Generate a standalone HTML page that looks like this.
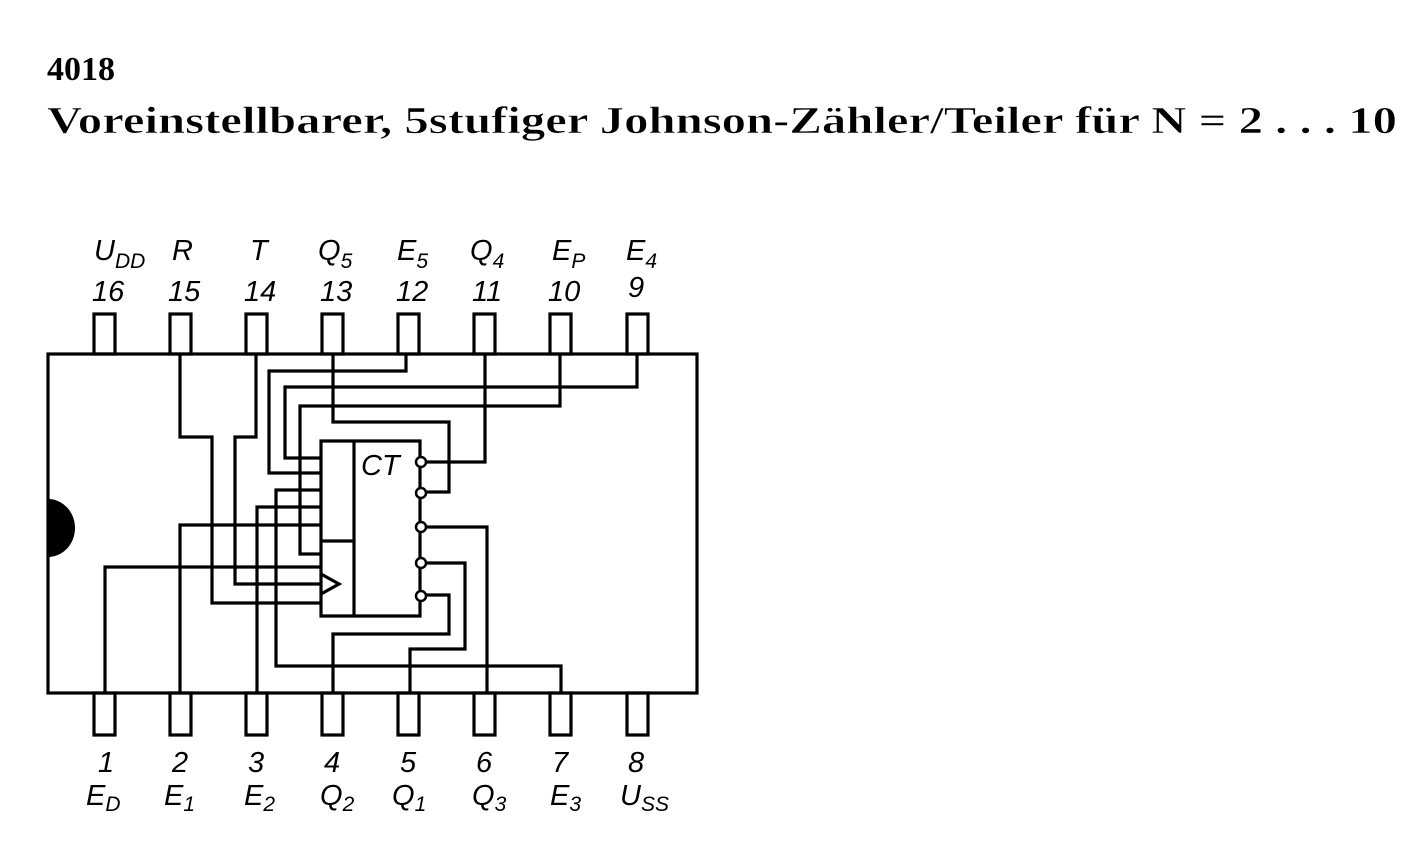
<!DOCTYPE html>
<html><head><meta charset="utf-8"><style>
html,body{margin:0;padding:0;background:#fff;}
svg{display:block;}
.t{font-family:"Liberation Serif",serif;fill:#000;}
.l{font-family:"Liberation Sans",sans-serif;font-style:italic;font-size:29px;fill:#000;}
.s{font-size:21px;}
</style></head><body>
<svg width="1427" height="846" viewBox="0 0 1427 846" xmlns="http://www.w3.org/2000/svg">
<text class="t" x="47" y="80" font-size="34" font-weight="bold">4018</text>
<text class="t" x="47" y="133" font-size="38" font-weight="bold" textLength="1350" lengthAdjust="spacingAndGlyphs" stroke="#fff" stroke-width="0.6">Voreinstellbarer, 5stufiger Johnson-Zähler/Teiler für N = 2 . . . 10</text>

<g fill="none" stroke="#000" stroke-width="3.2">
<rect x="48" y="354" width="649" height="339"/>
<g>
<rect x="94" y="314" width="21" height="40"/><rect x="170" y="314" width="21" height="40"/>
<rect x="246" y="314" width="21" height="40"/><rect x="322" y="314" width="21" height="40"/>
<rect x="398" y="314" width="21" height="40"/><rect x="474" y="314" width="21" height="40"/>
<rect x="550" y="314" width="21" height="40"/><rect x="627" y="314" width="21" height="40"/>
</g>
<g>
<rect x="94" y="693" width="21" height="42"/><rect x="170" y="693" width="21" height="42"/>
<rect x="246" y="693" width="21" height="42"/><rect x="322" y="693" width="21" height="42"/>
<rect x="398" y="693" width="21" height="42"/><rect x="474" y="693" width="21" height="42"/>
<rect x="550" y="693" width="21" height="42"/><rect x="627" y="693" width="21" height="42"/>
</g>
<polyline points="420,461 420,441 321,441 321,616 420,616 420,595"/>
<line x1="354" y1="441" x2="354" y2="616"/>
<line x1="321" y1="541" x2="354" y2="541"/>
<line x1="420" y1="461" x2="420" y2="595"/>
<polyline points="321,574 339,584 321,594"/>
<polyline points="180,354 180,437 212,437 212,603 321,603"/>
<polyline points="256,354 256,437 235,437 235,584 321,584"/>
<polyline points="333,354 333,422 449,422 449,492 425,492"/>
<polyline points="406,354 406,371 269,371 269,473 321,473"/>
<polyline points="485,354 485,462 425,462"/>
<polyline points="560,354 560,406 300,406 300,554 321,554"/>
<polyline points="637,354 637,387 285,387 285,458 321,458"/>
<polyline points="105,693 105,567 321,567"/>
<polyline points="180,693 180,525 321,525"/>
<polyline points="257,693 257,507 321,507"/>
<polyline points="333,693 333,634 449,634 449,595 425,595"/>
<polyline points="410,693 410,649 465,649 465,563 425,563"/>
<polyline points="487,693 487,527 425,527"/>
<polyline points="561,693 561,666 276,666 276,490 321,490"/>
<g fill="#fff" stroke-width="2.5">
<circle cx="421" cy="462" r="5"/><circle cx="421" cy="493" r="5"/><circle cx="421" cy="527" r="5"/>
<circle cx="421" cy="563" r="5"/><circle cx="421" cy="596" r="5"/>
</g>
</g>
<path d="M48,499 A27,29 0 0 1 48,557 Z" fill="#000"/>
<text class="l" x="361" y="475" font-size="23">CT</text>

<text class="l" x="94" y="260">U<tspan class="s" dy="8">DD</tspan></text>
<text class="l" x="172" y="260">R</text>
<text class="l" x="250" y="260">T</text>
<text class="l" x="318" y="260">Q<tspan class="s" dy="8">5</tspan></text>
<text class="l" x="397" y="260">E<tspan class="s" dy="8">5</tspan></text>
<text class="l" x="470" y="260">Q<tspan class="s" dy="8">4</tspan></text>
<text class="l" x="552" y="260">E<tspan class="s" dy="8">P</tspan></text>
<text class="l" x="626" y="260">E<tspan class="s" dy="8">4</tspan></text>
<text class="l" x="92" y="301">16</text><text class="l" x="168" y="301">15</text><text class="l" x="244" y="301">14</text><text class="l" x="320" y="301">13</text><text class="l" x="396" y="301">12</text><text class="l" x="472" y="301">11</text><text class="l" x="548" y="301">10</text><text class="l" x="628" y="297">9</text>
<text class="l" x="98" y="772">1</text><text class="l" x="172" y="772">2</text><text class="l" x="248" y="772">3</text><text class="l" x="324" y="772">4</text><text class="l" x="400" y="772">5</text><text class="l" x="476" y="772">6</text><text class="l" x="552" y="772">7</text><text class="l" x="628" y="772">8</text>
<text class="l" x="86" y="805">E<tspan class="s" dy="6">D</tspan></text>
<text class="l" x="164" y="805">E<tspan class="s" dy="6">1</tspan></text>
<text class="l" x="244" y="805">E<tspan class="s" dy="6">2</tspan></text>
<text class="l" x="320" y="805">Q<tspan class="s" dy="6">2</tspan></text>
<text class="l" x="392" y="805">Q<tspan class="s" dy="6">1</tspan></text>
<text class="l" x="472" y="805">Q<tspan class="s" dy="6">3</tspan></text>
<text class="l" x="550" y="805">E<tspan class="s" dy="6">3</tspan></text>
<text class="l" x="620" y="805">U<tspan class="s" dy="6">SS</tspan></text>
</svg>
</body></html>
